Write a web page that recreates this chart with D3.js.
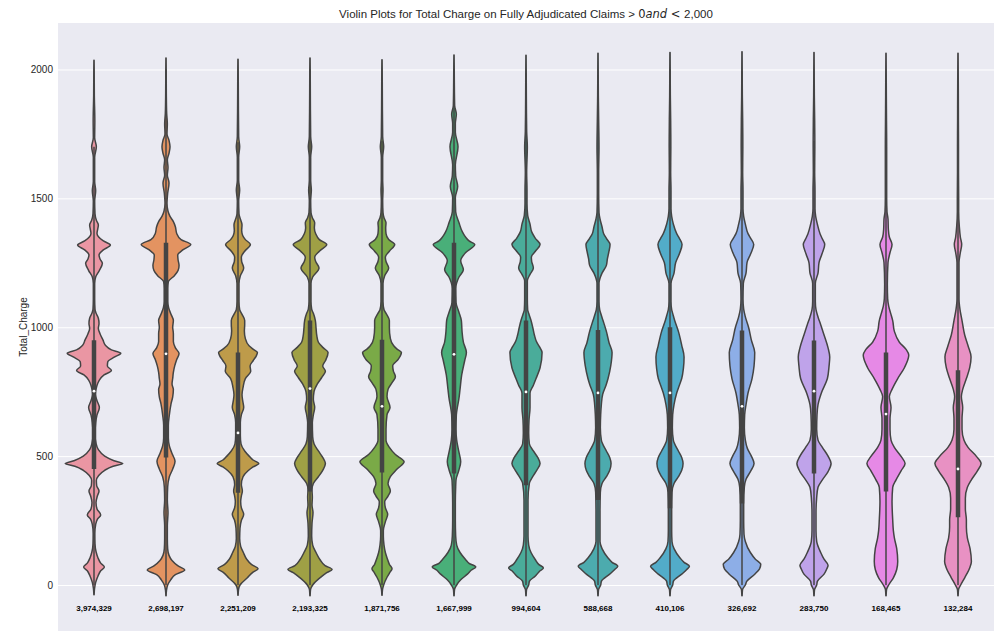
<!DOCTYPE html>
<html><head><meta charset="utf-8">
<script src="https://cdn.jsdelivr.net/npm/d3@7"></script>
<style>body{margin:0;background:#fff}svg{display:block}</style>
</head><body><svg id="c" width="1005" height="634"></svg>
<script>
// ---------- data ----------
const counts = [3974329, 2698197, 2251209, 2193325, 1871756, 1667999, 994604, 588668, 410106, 326692, 283750, 168465, 132284];
const q1s     = [450, 495, 358, 363, 436, 433, 387, 330, 298, 316, 433, 363, 263];
const medians = [752, 897, 590, 762, 693, 895, 749, 745, 745, 693, 752, 663, 450];
const q3s     = [950, 1328, 902, 1026, 951, 1328, 1026, 989, 1000, 987, 949, 902, 833];
const yTicks  = [0, 500, 1000, 1500, 2000];
const dataMin = 0, dataMax = 2000;

// density profiles: [Total_Charge value, relative density]
const v01 = [[-38,0.4],[-15,1.5],[10,5],[35,12],[55,20],[70,31],[85,20],[105,12],[130,6],[160,3],[200,2.5],[235,5],[255,10],[272,20],[295,9],[320,6],[345,10],[365,15],[385,8],[405,7],[425,14],[445,32],[460,55],[471,86],[483,58],[500,32],[525,13],[550,6],[585,3],[630,5],[660,9],[689,16],[715,9],[740,4],[770,8],[795,16],[815,30],[832,52],[850,40],[866,41],[885,62],[899,80],[912,52],[930,34],[950,27],[975,18],[995,13],[1015,15],[1035,13],[1055,6],[1070,3],[1110,2],[1170,2],[1195,5],[1220,16],[1248,25],[1265,18],[1280,15],[1300,28],[1319,49],[1335,28],[1350,14],[1364,9],[1380,11],[1397,13],[1415,7],[1440,3],[1490,2],[1530,5],[1565,2],[1660,2],[1700,7],[1735,2],[1800,2.5],[1900,1],[2000,0.6],[2036,0.3]];
const v02 = [[-42,0.4],[-20,1.5],[0,5],[20,14],[40,28],[58,56],[75,35],[95,18],[115,9],[140,5],[180,4],[230,4],[280,6],[330,4],[380,5],[420,10],[450,20],[480,27],[510,18],[540,10],[570,7],[620,7],[660,10],[703,15],[730,20],[759,22],[780,18],[801,20],[825,22],[850,26],[875,32],[898,39],[920,28],[945,22],[975,22],[1000,20],[1026,22],[1050,15],[1075,8],[1100,5],[1150,5],[1177,7],[1200,25],[1220,36],[1240,39],[1262,36],[1280,35],[1300,50],[1321,74],[1340,45],[1364,32],[1390,28],[1410,22],[1430,12],[1450,6],[1480,3],[1520,5],[1560,9],[1590,4],[1620,6],[1650,4],[1675,9],[1700,12],[1725,9],[1750,3],[1790,4],[1830,2],[1900,1],[2000,0.6],[2045,0.3]];
const v03 = [[-40,0.4],[-18,1.5],[0,6],[28,28],[50,45],[63,60],[80,40],[100,26],[126,16],[150,8],[180,5],[220,6],[250,10],[274,17],[300,10],[323,8],[345,10],[365,13],[390,10],[420,15],[443,30],[458,45],[471,62],[485,45],[499,34],[520,20],[548,9],[580,7],[630,7],[660,10],[689,17],[715,14],[738,12],[766,15],[801,22],[829,38],[850,36],[870,45],[890,55],[902,58],[915,45],[928,33],[956,22],[985,19],[1010,20],[1026,20],[1050,12],[1068,5],[1100,3],[1170,3],[1200,7],[1230,17],[1255,11],[1272,10],[1295,20],[1321,37],[1340,22],[1356,14],[1375,11],[1398,12],[1420,7],[1440,3],[1490,2],[1532,5],[1570,2],[1660,2],[1700,5],[1740,2],[1900,1],[2000,0.6],[2040,0.3]];
const v04 = [[-42,0.4],[-18,1.5],[0,8],[28,30],[48,50],[60,66],[75,45],[98,30],[126,18],[155,8],[190,5],[240,6],[281,9],[310,6],[340,7],[370,6],[394,10],[420,25],[445,38],[471,46],[495,38],[520,25],[548,12],[575,8],[630,7],[660,10],[689,14],[720,10],[750,12],[780,22],[805,35],[829,46],[850,38],[870,46],[902,54],[920,40],[942,25],[970,20],[998,18],[1026,16],[1054,10],[1070,5],[1100,3],[1170,3],[1195,8],[1230,27],[1255,17],[1272,14],[1295,28],[1321,50],[1340,28],[1363,17],[1385,13],[1405,14],[1425,7],[1445,3],[1490,2],[1532,4],[1570,2],[1660,2],[1700,5],[1740,2],[1900,1],[2000,0.6],[2045,0.3]];
const v05 = [[-40,0.4],[-18,1.5],[0,5],[30,15],[50,24],[63,30],[80,22],[98,17],[126,10],[155,6],[190,4],[211,4],[245,10],[274,17],[300,10],[323,8],[345,18],[365,25],[394,18],[420,25],[450,45],[478,66],[506,40],[534,22],[562,12],[604,12],[661,15],[689,24],[731,15],[759,18],[785,30],[808,40],[830,34],[850,32],[875,48],[902,58],[915,45],[928,35],[956,25],[998,22],[1026,22],[1054,12],[1068,6],[1100,3],[1170,3],[1200,8],[1230,20],[1255,12],[1272,10],[1295,22],[1321,38],[1340,20],[1363,12],[1385,11],[1405,12],[1425,6],[1445,3],[1490,2],[1532,3],[1570,2],[1660,2],[1700,5],[1740,2],[1900,1],[2000,0.6],[2038,0.3]];
const v06 = [[-42,0.4],[-18,1.5],[0,8],[20,20],[42,40],[58,52],[70,65],[84,45],[98,35],[126,18],[155,8],[190,5],[250,4],[320,4],[380,5],[408,6],[443,14],[478,20],[520,14],[562,8],[604,6],[661,7],[689,10],[717,14],[759,18],[815,23],[871,32],[902,37],[942,28],[984,24],[1026,22],[1061,14],[1096,6],[1150,5],[1195,15],[1223,28],[1258,20],[1290,35],[1321,62],[1335,45],[1349,35],[1370,25],[1405,15],[1448,5],[1504,4],[1546,11],[1588,5],[1630,4],[1700,12],[1757,4],[1790,4],[1827,7],[1860,2],[1950,1],[2020,0.6],[2056,0.3]];
const v07 = [[-42,0.4],[-18,1.5],[0,8],[14,10],[35,28],[55,42],[66,52],[80,38],[98,28],[126,15],[155,8],[190,6],[260,6],[330,6],[394,10],[420,20],[445,32],[471,42],[495,35],[520,22],[548,10],[590,8],[640,9],[689,12],[745,12],[775,22],[801,30],[843,42],[902,48],[925,40],[942,32],[970,25],[1000,20],[1026,15],[1054,8],[1068,5],[1110,4],[1180,4],[1205,12],[1230,22],[1255,17],[1272,16],[1295,28],[1321,42],[1345,28],[1370,17],[1400,12],[1434,5],[1480,3],[1532,3],[1600,2],[1700,4],[1760,2],[1900,1],[2000,0.6],[2055,0.3]];
const v08 = [[-42,0.4],[-18,1.5],[0,8],[14,10],[42,35],[60,50],[73,59],[88,42],[105,30],[141,12],[169,6],[210,6],[290,6],[360,7],[394,12],[420,25],[445,35],[471,39],[495,35],[520,25],[562,10],[610,7],[661,8],[700,10],[740,14],[775,24],[801,30],[850,38],[902,42],[940,33],[984,25],[1026,15],[1054,8],[1068,5],[1100,3],[1170,3],[1210,12],[1240,25],[1265,28],[1290,32],[1321,36],[1345,25],[1363,17],[1390,12],[1420,6],[1445,3],[1520,2],[1600,2],[1700,3],[1800,2],[1900,1],[2000,0.6],[2063,0.3]];
const v09 = [[-42,0.4],[-18,1.5],[0,8],[14,10],[42,35],[60,50],[73,58],[88,42],[105,30],[141,12],[169,6],[210,5],[290,5],[360,6],[394,12],[420,25],[445,35],[471,39],[495,35],[520,25],[562,10],[610,7],[661,8],[700,12],[745,20],[775,28],[801,35],[840,40],[885,42],[930,35],[984,25],[1026,14],[1054,8],[1068,5],[1100,3],[1170,3],[1210,12],[1251,17],[1285,28],[1321,36],[1345,28],[1363,20],[1400,10],[1430,5],[1460,3],[1530,3],[1600,2],[1700,2.5],[1800,2],[1900,1],[2000,0.6],[2066,0.3]];
const v10 = [[-42,0.4],[-18,1.5],[0,10],[14,14],[42,38],[62,52],[80,56],[100,40],[126,25],[169,10],[197,6],[250,5],[320,5],[380,7],[410,12],[440,25],[471,36],[500,28],[530,16],[562,10],[610,7],[661,8],[700,12],[745,18],[801,30],[850,36],[902,38],[950,28],[998,20],[1040,10],[1070,5],[1110,3],[1170,4],[1210,12],[1251,15],[1285,26],[1321,35],[1345,26],[1363,18],[1400,10],[1430,5],[1460,3],[1530,3],[1600,2],[1700,2.5],[1800,2],[1900,1],[2000,0.6],[2069,0.3]];
const v11 = [[-42,0.4],[-18,1.5],[0,8],[14,10],[42,30],[62,38],[77,42],[100,30],[126,20],[169,8],[210,6],[280,6],[340,8],[379,12],[408,25],[440,42],[471,51],[500,42],[534,25],[562,12],[604,8],[661,9],[700,12],[745,22],[801,40],[850,45],[885,47],[920,42],[970,30],[1010,20],[1040,12],[1068,6],[1100,4],[1170,4],[1210,12],[1251,15],[1285,24],[1321,32],[1345,24],[1363,18],[1400,10],[1430,5],[1460,3],[1530,3],[1600,2],[1700,2.5],[1800,2],[1900,1],[2000,0.6],[2066,0.3]];
const v12 = [[-42,0.4],[-18,1.5],[0,8],[28,22],[60,32],[91,35],[141,32],[183,25],[211,22],[253,20],[323,18],[379,20],[408,30],[443,45],[471,57],[499,45],[534,25],[562,15],[604,12],[647,12],[689,15],[731,10],[759,18],[801,35],[843,55],[892,68],[914,60],[942,40],[984,25],[1026,20],[1054,14],[1082,8],[1110,5],[1167,4],[1251,6],[1290,12],[1321,18],[1350,10],[1380,7],[1420,6],[1448,3],[1500,2],[1600,2],[1700,2],[1800,1.5],[1900,1],[2000,0.6],[2063,0.3]];
const v13 = [[-42,0.4],[-18,1.5],[0,8],[28,20],[70,36],[91,40],[141,36],[183,28],[225,25],[253,25],[295,22],[337,22],[379,28],[408,40],[443,58],[471,69],[499,55],[534,30],[562,18],[604,12],[647,12],[689,14],[731,10],[759,14],[801,25],[843,35],[885,39],[928,30],[970,20],[1026,12],[1068,6],[1110,3],[1167,3],[1251,3],[1290,7],[1321,11],[1350,7],[1390,4],[1448,2],[1500,2],[1600,1.5],[1700,1.5],[1800,1.2],[1900,1],[2000,0.6],[2063,0.3]];
const profiles = [v01, v02, v03, v04, v05, v06, v07, v08, v09, v10, v11, v12, v13];

// ---------- seaborn-like husl palette ----------
const M = [[3.240969941904521,-1.537383177570093,-0.498610760293],
           [-0.96924363628087,1.87596750150772,0.041555057407175],
           [0.055630079696993,-0.20397695888897,1.056971514242878]];
const refU = 0.19783000664283, refV = 0.46831999493879, kappa = 903.2962962, epsilon = 0.0088564516;
function getBounds(L){
  const res=[]; const sub1=Math.pow(L+16,3)/1560896; const sub2= sub1>epsilon?sub1:L/kappa;
  for(let c=0;c<3;c++){const [m1,m2,m3]=M[c];
    for(let t=0;t<2;t++){
      const top1=(284517*m1-94839*m3)*sub2;
      const top2=(838422*m3+769860*m2+731718*m1)*L*sub2-769860*t*L;
      const bottom=(632260*m3-126452*m2)*sub2+126452*t;
      res.push([top1/bottom, top2/bottom]);}}
  return res;}
function maxChroma(L,H){const hr=H/360*2*Math.PI;let mn=Infinity;
  for(const [s,i] of getBounds(L)){const len=i/(Math.sin(hr)-s*Math.cos(hr)); if(len>=0) mn=Math.min(mn,len);} return mn;}
function huslToRgb(H,S,L){
  const C=maxChroma(L,H)/100*S; const hr=H/360*2*Math.PI;
  const U=Math.cos(hr)*C, V=Math.sin(hr)*C;
  const Y= L>8?Math.pow((L+16)/116,3):L/kappa;
  const vu=U/(13*L)+refU, vv=V/(13*L)+refV;
  const X=9*Y*vu/(4*vv); const Z=(9*Y-15*vv*Y-vv*X)/(3*vv);
  const f=c=>{c= c<=0.0031308?12.92*c:1.055*Math.pow(c,1/2.4)-0.055; return Math.max(0,Math.min(1,c));};
  return M.map(r=>f(r[0]*X+r[1]*Y+r[2]*Z));}
const n = counts.length;
const colors = d3.range(n).map(i=>{
  const h=((i/n)+0.01)%1*359;
  const rgb=huslToRgb(h,0.9*99,0.7*99);
  const c=d3.hsl(d3.rgb(rgb[0]*255,rgb[1]*255,rgb[2]*255)); c.s*=0.75; return c.formatHex();});
const gray = "#444444";

// ---------- layout ----------
const L = 58, R = 994, T = 23, B = 631;
const svg = d3.select("#c");
const x = d3.scaleBand().domain(d3.range(n)).range([L, R]).padding(0);
const y = d3.scaleLinear().domain([-178.5, 2180.4]).range([B, T]);
const maxD = d3.max(profiles, p => d3.max(p, d => d[1]));
const w = d3.scaleLinear().domain([0, maxD]).range([0, x.bandwidth() * 0.4]);

svg.append("rect").attr("x", L).attr("y", T).attr("width", R - L).attr("height", B - T).attr("fill", "#EAEAF2");

const yAxis = svg.append("g").attr("transform", `translate(${L},0)`)
  .call(d3.axisLeft(y).tickValues(yTicks).tickSize(-(R - L)).tickPadding(5).tickFormat(d3.format("d")));
yAxis.select(".domain").remove();
yAxis.selectAll("line").attr("stroke", "#fff").attr("stroke-width", 1);
yAxis.selectAll("text").attr("fill", "#262626").style("font-family", "'Liberation Sans', Arial, sans-serif").style("font-size", "10px");

const g = svg.append("g");
profiles.forEach((p, i) => {
  const cx = x(i) + x.bandwidth() / 2;
  const area = d3.area().curve(d3.curveMonotoneY)
    .y(d => y(d[0])).x0(d => cx - w(d[1])).x1(d => cx + w(d[1]));
  g.append("path").attr("d", area(p)).attr("fill", colors[i])
    .attr("stroke", gray).attr("stroke-width", 1.5).attr("stroke-linejoin", "round");
  const iqr = q3s[i] - q1s[i];
  const lo = Math.max(dataMin, q1s[i] - 1.5 * iqr), hi = Math.min(dataMax, q3s[i] + 1.5 * iqr);
  g.append("line").attr("x1", cx).attr("x2", cx).attr("y1", y(lo)).attr("y2", y(hi))
    .attr("stroke", gray).attr("stroke-width", 1.5);
  g.append("line").attr("x1", cx).attr("x2", cx).attr("y1", y(q1s[i])).attr("y2", y(q3s[i]))
    .attr("stroke", gray).attr("stroke-width", 4.5);
  g.append("circle").attr("cx", cx).attr("cy", y(medians[i])).attr("r", 1.4).attr("fill", "#fff");
  g.append("text").attr("x", cx).attr("y", y(-90)).attr("dy", "0.35em").attr("text-anchor", "middle")
    .style("font-family", "'Liberation Sans', Arial, sans-serif").style("font-size", "8px").style("font-weight", "bold")
    .attr("fill", "#000").text(d3.format(",")(counts[i]));
});

svg.append("text").attr("transform", `translate(27,${(T + B) / 2}) rotate(-90)`).attr("text-anchor", "middle")
  .style("font-family", "'Liberation Sans', Arial, sans-serif").style("font-size", "10px").attr("fill", "#262626")
  .text("Total_Charge");

const title = svg.append("text").attr("x", (L + R) / 2).attr("y", 18).attr("text-anchor", "middle")
  .style("font-family", "'Liberation Sans', Arial, sans-serif").style("font-size", "11.5px").attr("fill", "#262626");
title.append("tspan").text("Violin Plots for Total Charge on Fully Adjudicated Claims > ");
title.append("tspan").style("font-family", "'DejaVu Sans', sans-serif").text("0");
title.append("tspan").style("font-family", "'DejaVu Sans', sans-serif").style("font-style", "italic").text("and");
title.append("tspan").style("font-family", "'DejaVu Sans', sans-serif").text(" < ");
title.append("tspan").text("2,000");
</script></body></html>
